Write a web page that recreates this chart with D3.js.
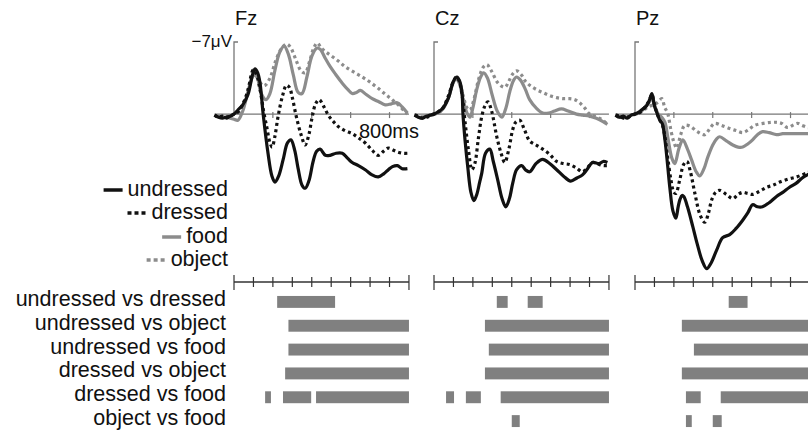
<!DOCTYPE html>
<meta charset="utf-8">
<head>
<title>ERP</title>
<style>
body { margin:0; background:#fff; }
svg { display:block; font-family:"Liberation Sans", Arial, sans-serif; }
</style>
</head>
<body>
<script src="https://d3js.org/d3.v7.min.js"></script>
<script>

// electrodes and conditions
var electrodes = ["Fz", "Cz", "Pz"];
var conditions = ["undressed", "dressed", "food", "object"];
var comparisons = ["undressed vs dressed", "undressed vs object", "undressed vs food",
                   "dressed vs object", "dressed vs food", "object vs food"];
var baselineTicks = [200, 400, 600, 800];
var timeTicks = [0, 100, 200, 300, 400, 500, 600, 700, 800, 900];

// waveforms, [ms, microvolt] (negative up)
var fzUndressed = [[-100,0.1],[-80,0.3],[-60,0.4],[-40,0.3],[-20,0.2],[0,0],[20,-0.4],[45,-0.9],[72,-1.9],[95,-3.8],[108,-4.4],[122,-4.0],[134,-3.0],[150,0],[175,3.8],[195,6.0],[211,6.6],[230,6.0],[253,4.4],[275,2.8],[293,2.5],[312,3.5],[330,5.3],[350,6.9],[366,7.2],[385,6.5],[407,4.6],[425,3.6],[443,3.4],[470,4.0],[495,4.0],[525,3.8],[557,3.8],[585,4.3],[608,4.7],[640,5.0],[675,5.4],[710,5.9],[742,6.1],[770,5.8],[794,5.4],[815,5.1],[840,5.0],[865,5.3],[892,5.3]];
var fzDressed = [[-100,0.1],[-80,0.3],[-60,0.2],[-40,0.4],[-20,0.2],[0,0],[20,-0.2],[41,-0.8],[70,-2.2],[90,-3.9],[98,-4.3],[115,-3.9],[134,-2.4],[152,-0.3],[170,1.4],[185,2.8],[196,3.2],[210,2.2],[227,0.2],[250,-1.8],[270,-2.8],[285,-2.6],[300,-1.6],[320,0.2],[345,2.0],[366,3.0],[385,2.0],[402,0.3],[420,-1.0],[438,-1.4],[460,-0.8],[485,0.1],[510,0.7],[536,1.2],[570,1.6],[608,1.9],[640,2.3],[675,2.8],[710,3.5],[742,4.0],[770,3.6],[794,3.3],[820,3.5],[845,3.7],[870,3.8],[892,3.8]];
var fzFood = [[-100,0.1],[-80,0.2],[-60,0.3],[-40,0.3],[-20,0.4],[0,0.5],[20,0.6],[45,-0.3],[72,-2.2],[95,-3.6],[105,-3.8],[120,-3.5],[140,-2.0],[165,-1.4],[185,-2.0],[210,-4.2],[235,-6.0],[258,-6.6],[280,-5.8],[305,-3.8],[330,-2.1],[350,-2.0],[375,-3.6],[400,-5.6],[425,-6.4],[443,-6.3],[470,-5.4],[495,-4.6],[525,-3.8],[557,-3.0],[585,-2.4],[608,-2.0],[630,-2.1],[650,-2.3],[680,-1.9],[711,-1.5],[745,-1.2],[778,-0.9],[810,-1.0],[840,-1.1],[865,-0.7],[892,-0.1]];
var fzObject = [[-100,0.1],[-80,0.3],[-60,0.3],[-40,0.2],[-20,0.1],[0,0],[20,0],[45,-0.6],[72,-2.4],[95,-3.8],[105,-4.0],[125,-3.5],[145,-2.8],[160,-2.8],[185,-3.5],[215,-5.2],[245,-6.4],[270,-6.8],[290,-6.5],[320,-5.2],[345,-4.2],[366,-4.0],[390,-5.2],[410,-6.4],[428,-6.9],[450,-6.4],[475,-6.0],[505,-5.6],[540,-5.1],[572,-4.6],[615,-4.1],[660,-3.6],[700,-3.1],[742,-2.5],[780,-1.9],[814,-1.4],[850,-0.8],[881,-0.2],[892,0]];

var czUndressed = [[-100,0.1],[-80,0.3],[-60,0.4],[-40,0.2],[-20,0.1],[0,0],[20,-0.2],[46,-0.6],[75,-1.6],[100,-3.2],[118,-3.6],[132,-3.2],[144,-2.1],[149,0],[160,2.6],[174,5.2],[190,7.6],[205,8.4],[220,7.8],[235,6.6],[246,5.7],[265,3.8],[287,3.4],[305,4.6],[328,6.4],[350,8.2],[369,9.0],[388,8.2],[405,6.7],[425,5.4],[451,5.0],[470,5.4],[492,5.6],[525,4.8],[559,4.4],[595,4.8],[631,5.4],[665,6.0],[703,6.5],[735,6.2],[764,5.9],[790,5.3],[815,4.7],[850,4.8],[870,4.6],[892,4.7]];
var czDressed = [[-100,0.1],[-80,0.2],[-60,0.4],[-40,0.3],[-20,0.2],[0,0],[20,-0.2],[46,-0.6],[75,-1.8],[100,-3.2],[115,-3.6],[130,-3.2],[145,-1.8],[160,0.8],[178,3.6],[195,5.4],[210,4.8],[228,2.4],[246,0.2],[262,-0.8],[277,-1.2],[295,-0.4],[323,2.2],[345,3.8],[364,4.7],[385,3.4],[405,1.5],[420,0.8],[441,0.6],[465,1.5],[492,2.6],[525,3.0],[559,3.4],[595,3.9],[631,4.6],[665,4.8],[697,4.9],[730,5.2],[764,5.6],[790,5.2],[815,4.7],[850,4.9],[870,5.0],[892,5.0]];
var czFood = [[-100,0.1],[-80,0.3],[-60,0.3],[-40,0.2],[-20,0.1],[0,0],[20,-0.1],[46,-0.5],[75,-1.6],[100,-3.1],[115,-3.4],[130,-3.0],[150,-1.4],[170,-0.1],[185,0.3],[200,-0.6],[220,-2.4],[240,-3.6],[256,-4.0],[275,-3.5],[300,-1.8],[325,-0.3],[349,0.3],[370,-0.6],[390,-2.2],[410,-3.3],[425,-3.6],[445,-3.3],[470,-2.4],[492,-1.4],[525,-0.6],[559,-0.1],[590,-0.1],[620,-0.3],[656,-0.5],[690,-0.3],[733,0],[765,0.1],[800,0.2],[835,0.4],[867,0.7],[892,1.0]];
var czObject = [[-100,0.1],[-80,0.2],[-60,0.3],[-40,0.3],[-20,0.1],[0,0],[20,-0.1],[46,-0.6],[75,-1.8],[100,-3.1],[115,-3.4],[130,-3.1],[150,-1.8],[170,-0.6],[185,-0.4],[205,-1.4],[230,-3.4],[255,-4.6],[272,-4.8],[295,-4.2],[330,-3.0],[364,-2.6],[385,-3.2],[405,-3.9],[425,-4.2],[450,-3.8],[470,-3.2],[492,-2.8],[525,-2.4],[559,-2.1],[595,-1.8],[631,-1.6],[665,-1.5],[697,-1.5],[725,-1.4],[749,-1.1],[775,-0.6],[800,0],[825,0.2],[851,0.4],[870,0.6],[892,1.0]];

var pzUndressed = [[-100,0.1],[-80,0.3],[-60,0.2],[-40,0.4],[-20,0.1],[0,0],[20,-0.2],[40,-0.5],[60,-0.8],[75,-1.4],[87,-2.0],[100,-0.8],[115,0],[128,0.6],[140,0.9],[154,2.5],[168,5.0],[179,7.1],[195,9.4],[210,10.1],[222,9.0],[231,8.3],[242,7.9],[251,8.0],[270,9.0],[297,10.9],[320,12.6],[345,14.2],[369,15.0],[390,14.5],[420,13.2],[451,12.0],[487,11.7],[520,11.1],[554,10.3],[580,9.6],[605,8.8],[630,9.0],[656,9.0],[690,8.6],[728,8.0],[760,7.6],[795,7.1],[830,6.7],[860,6.2],[887,5.9],[900,5.8]];
var pzDressed = [[-100,0.1],[-80,0.2],[-60,0.4],[-40,0.3],[-20,0.2],[0,0],[20,-0.1],[40,-0.4],[60,-0.9],[75,-1.4],[87,-1.9],[100,-0.9],[115,0],[128,0.6],[140,1.0],[154,2.2],[168,4.2],[185,6.4],[200,7.6],[210,7.7],[230,6.4],[250,4.9],[267,4.6],[285,5.6],[308,7.7],[335,9.8],[359,10.5],[378,9.6],[395,8.3],[415,7.6],[436,7.4],[470,7.8],[503,8.2],[530,7.8],[554,7.6],[580,7.7],[605,7.8],[640,7.5],[677,7.1],[710,6.9],[744,6.6],[790,6.3],[831,6.1],[860,5.9],[887,5.7],[900,5.6]];
var pzFood = [[-100,0.1],[-80,0.3],[-60,0.2],[-40,0.3],[-20,0.1],[0,0],[20,-0.1],[40,-0.4],[60,-0.9],[75,-1.2],[90,-1.5],[105,-0.6],[120,0],[138,0.3],[154,0.8],[170,2.4],[190,4.3],[205,4.8],[225,3.4],[246,2.5],[270,3.4],[292,4.5],[315,5.6],[333,6.0],[355,5.3],[374,4.2],[400,3.0],[420,2.4],[436,2.2],[470,2.6],[503,3.0],[530,3.2],[554,3.2],[580,2.9],[605,2.5],[630,2.0],[656,1.7],[690,1.8],[728,2.0],[760,1.9],[795,1.9],[840,1.9],[887,1.9],[900,1.9]];
var pzObject = [[-100,0.1],[-80,0.2],[-60,0.3],[-40,0.2],[-20,0.2],[0,0],[20,-0.1],[40,-0.3],[60,-0.6],[80,-0.8],[100,-0.9],[120,-1.2],[138,-1.5],[152,-0.7],[169,0],[185,1.6],[198,2.6],[215,3.3],[235,2.0],[256,1.1],[285,1.2],[320,1.7],[359,2.0],[385,1.4],[410,0.9],[445,1.1],[487,1.4],[520,1.6],[554,1.8],[585,1.5],[615,1.1],[660,0.9],[703,0.8],[730,0.8],[754,0.9],[785,1.3],[810,1.1],[836,0.9],[860,1.1],[887,1.3],[900,1.3]];

var waves = {
  Fz: [fzUndressed, fzDressed, fzFood, fzObject],
  Cz: [czUndressed, czDressed, czFood, czObject],
  Pz: [pzUndressed, pzDressed, pzFood, pzObject]
};

// significant intervals (ms) per comparison row
var fzSig = [[[222,520]], [[280,900]], [[280,900]], [[263,900]], [[160,190],[252,397],[422,900]], []];
var czSig = [[[323,379],[482,559]], [[262,900]], [[282,900]], [[262,900]], [[62,103],[164,241],[343,900]], [[400,441]]];
var pzSig = [[[482,579]], [[241,900]], [[303,900]], [[241,900]], [[262,338],[441,900]], [[262,292],[400,446]]];
var sigs = { Fz: fzSig, Cz: czSig, Pz: pzSig };

// layout
var W = 808, H = 431;
var panelX0 = [234, 434, 635];   // 0 ms for each electrode
var pxPerMs = 0.1944;
var black = "#111", gray = "#8c8c8c", barGray = "#808080";

var svg = d3.select("body").append("svg")
    .attr("width", W).attr("height", H);

var y = d3.scaleLinear().domain([-7, 15]).range([42, 268.6]);

var row = d3.scaleBand().domain(comparisons).range([290, 433]).paddingInner(0.5).paddingOuter(0.25);

var styles = [
  { color: black, dash: null },
  { color: black, dash: "3,3.2" },
  { color: gray,  dash: null },
  { color: gray,  dash: "3,3.2" }
];

electrodes.forEach(function(el, i) {
  var x = d3.scaleLinear().domain([0, 900]).range([panelX0[i], panelX0[i] + 900 * pxPerMs]);
  var g = svg.append("g");

  // baseline
  g.append("line")
    .attr("x1", x(-100)).attr("x2", x(900))
    .attr("y1", y(0)).attr("y2", y(0))
    .attr("stroke", "#777").attr("stroke-width", 1.2);
  g.selectAll(".btick").data(baselineTicks).enter().append("line")
    .attr("x1", d => x(d)).attr("x2", d => x(d))
    .attr("y1", y(0) - 2).attr("y2", y(0) + 4)
    .attr("stroke", "#777").attr("stroke-width", 1.2);

  // vertical axis with -7 tick
  g.append("path")
    .attr("d", "M" + x(0) + "," + y(0) + "V" + y(-7) + "h4")
    .attr("fill", "none").attr("stroke", "#777").attr("stroke-width", 1.3);

  // electrode label
  g.append("text").attr("x", x(0) + 1).attr("y", 25)
    .attr("font-size", 20).attr("fill", "#111").text(el);

  // waveforms, drawn so black lines sit on top
  var line = d3.line().x(d => x(d[0])).y(d => y(d[1])).curve(d3.curveCatmullRom.alpha(0.5));
  [3, 2, 1, 0].forEach(function(k) {
    g.append("path")
      .datum(waves[el][k])
      .attr("d", line)
      .attr("fill", "none")
      .attr("stroke", styles[k].color)
      .attr("stroke-width", 3.2)
      .attr("stroke-linejoin", "round")
      .attr("stroke-dasharray", styles[k].dash);
  });

  // time axis for the statistics
  var ty = 282;
  g.append("line")
    .attr("x1", x(0)).attr("x2", x(900)).attr("y1", ty).attr("y2", ty)
    .attr("stroke", "#333").attr("stroke-width", 1.3);
  g.selectAll(".ttick").data(timeTicks).enter().append("line")
    .attr("x1", d => x(d)).attr("x2", d => x(d))
    .attr("y1", d => (d == 0 || d == 900) ? ty - 7 : ty - 5)
    .attr("y2", d => (d == 0 || d == 900) ? ty + 8 : ty + 5)
    .attr("stroke", "#333").attr("stroke-width", 1.2);

  // significance bars
  sigs[el].forEach(function(segs, r) {
    g.selectAll(".bar" + r).data(segs).enter().append("rect")
      .attr("x", d => x(d[0]))
      .attr("width", d => x(d[1]) - x(d[0]))
      .attr("y", row(comparisons[r]))
      .attr("height", row.bandwidth())
      .attr("fill", barGray);
  });
});

// amplitude + time labels
svg.append("text").attr("x", 232).attr("y", 47).attr("text-anchor", "end")
  .attr("font-size", 17).attr("fill", "#111").text("\u22127\u03bcV");
svg.append("text").attr("x", 359).attr("y", 138)
  .attr("font-size", 20).attr("fill", "#111").text("800ms");

// legend
var legendY = [196, 219, 243, 266];
conditions.forEach(function(c, k) {
  var t = svg.append("text").attr("x", 228).attr("y", legendY[k])
    .attr("text-anchor", "end").attr("font-size", 21.5).attr("fill", "#111").text(c);
  var w = t.node().getComputedTextLength();
  var x1 = 228 - w - 5;
  svg.append("line")
    .attr("x1", x1 - 19).attr("x2", x1)
    .attr("y1", legendY[k] - 6).attr("y2", legendY[k] - 6)
    .attr("stroke", styles[k].color).attr("stroke-width", 3.5)
    .attr("stroke-dasharray", styles[k].dash ? "4,3" : null);
});

// comparison labels
comparisons.forEach(function(c) {
  svg.append("text").attr("x", 226).attr("y", row(c) + row.bandwidth() - 2)
    .attr("text-anchor", "end").attr("font-size", 21.5).attr("fill", "#111").text(c);
});

</script>
</body>
